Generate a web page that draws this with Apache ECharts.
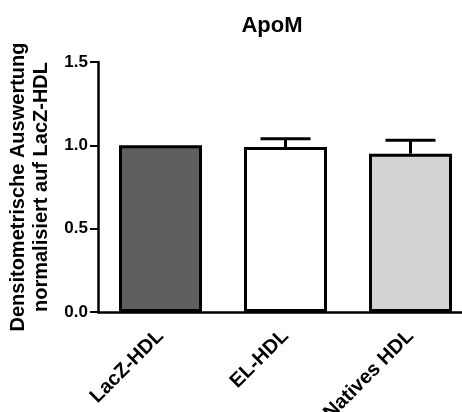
<!DOCTYPE html>
<html><head><meta charset="utf-8">
<script src="https://cdn.jsdelivr.net/npm/echarts@6/dist/echarts.min.js"></script>
<style>html,body{margin:0;padding:0;background:#fff}#c{width:462px;height:412px}</style>
</head><body><div id="c"></div>
<script>
const categories = ['LacZ-HDL', 'EL-HDL', 'Natives HDL'];
const means = [1.0, 0.99, 0.95];
const errUpper = [1.0, 1.04, 1.03];
const barColors = ['#5f5f5f', '#ffffff', '#d3d3d3'];
const yTicks = [0, 0.5, 1.0, 1.5];

const FONT = '"Liberation Sans", Arial, sans-serif';
const chart = echarts.init(document.getElementById('c'), null, {renderer: 'canvas'});
chart.setOption({
  animation: false,
  backgroundColor: '#fff',
  title: {
    text: 'ApoM', left: 267, top: 10, textAlign: 'center',
    textStyle: {fontFamily: FONT, fontWeight: 'bold', fontSize: 22, color: '#000'}
  },
  grid: {left: 98, top: 62, width: 375, height: 250, outerBoundsMode: 'none', containLabel: false},
  xAxis: {
    type: 'category', data: categories,
    axisLine: {lineStyle: {color: '#000', width: 2.5}},
    axisTick: {alignWithLabel: true, length: 6, lineStyle: {color: '#000', width: 2}},
    axisLabel: {rotate: 45, margin: 21, fontFamily: FONT, fontWeight: 'bold', fontSize: 20, color: '#000'}
  },
  yAxis: {
    type: 'value', min: 0, max: 1.5, interval: 0.5,
    splitLine: {show: false},
    axisLine: {show: true, lineStyle: {color: '#000', width: 2.5}},
    axisTick: {show: true, length: 8, lineStyle: {color: '#000', width: 2}},
    axisLabel: {margin: 10, fontFamily: FONT, fontWeight: 'bold', fontSize: 17, color: '#000',
      formatter: v => v.toFixed(1)},
    name: 'Densitometrische Auswertung\nnormalisiert auf LacZ-HDL',
    nameLocation: 'middle', nameGap: 43, nameRotate: 90,
    nameTextStyle: {fontFamily: FONT, fontWeight: 'bold', fontSize: 20, lineHeight: 23, color: '#000'}
  },
  series: [
    {
      type: 'bar', barWidth: 83,
      data: means.map((v, i) => ({value: v, itemStyle: {color: barColors[i]}})),
      itemStyle: {borderColor: '#000', borderWidth: 3},
      z: 2
    },
    {
      type: 'custom', z: 3,
      data: means.map((v, i) => [i, v, errUpper[i]]),
      renderItem: function (params, api) {
        const top = api.coord([api.value(0), api.value(1)]);
        const hi = api.coord([api.value(0), api.value(2)]);
        if (Math.abs(hi[1] - top[1]) < 1) return null;
        const hw = 25;
        return {
          type: 'group',
          children: [
            {type: 'line', shape: {x1: top[0], y1: top[1], x2: hi[0], y2: hi[1]}, style: {stroke: '#000', lineWidth: 3}},
            {type: 'line', shape: {x1: hi[0] - hw, y1: hi[1], x2: hi[0] + hw, y2: hi[1]}, style: {stroke: '#000', lineWidth: 3}}
          ]
        };
      }
    }
  ]
});
</script></body></html>
